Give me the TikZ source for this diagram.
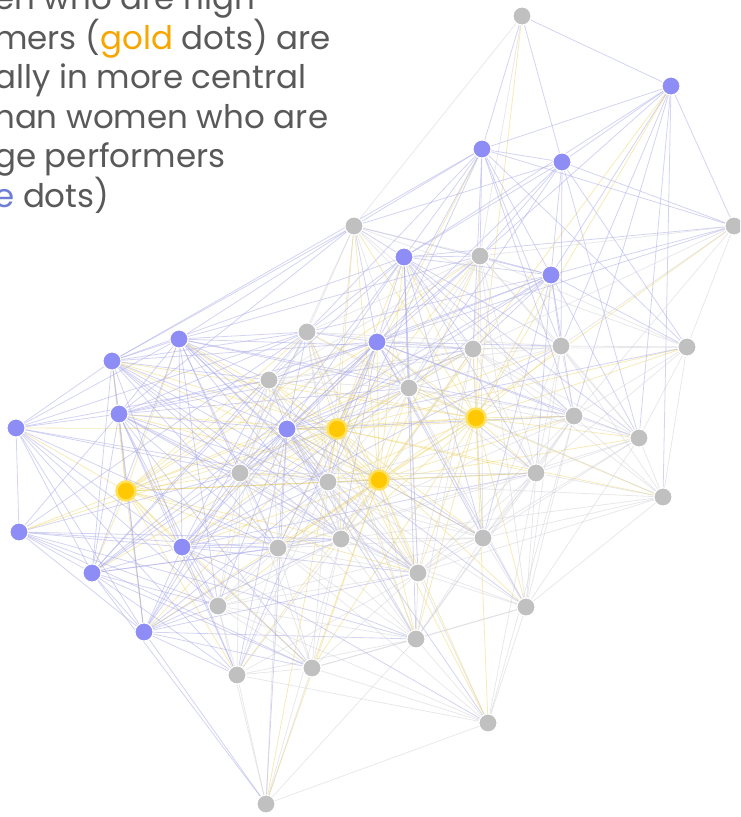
\documentclass[tikz,border=0pt]{standalone}
\usepackage{fontspec}
\setmainfont{Poppins}
\pgfdeclarelayer{back}
\pgfsetlayers{back,main}

\definecolor{dotgold}{RGB}{255,200,0}
\definecolor{dotglow}{RGB}{255,224,90}
\definecolor{dotblue}{RGB}{141,141,245}
\definecolor{dotgray}{RGB}{192,192,192}
\definecolor{linkgold}{RGB}{238,214,110}
\definecolor{linkblue}{RGB}{168,168,232}
\definecolor{linkgray}{RGB}{205,205,212}
\definecolor{inkgray}{RGB}{89,89,89}
\definecolor{inkgold}{RGB}{247,166,0}
\definecolor{inkblue}{RGB}{110,126,214}

\tikzset{
  dot/.style={circle, minimum size=18pt, inner sep=0pt, draw=white, line width=1pt},
  kind1/.style={dot, fill=dotgray},
  kind2/.style={dot, fill=dotblue},
  kind3/.style={dot, fill=dotgold, draw=dotglow, line width=2.5pt, minimum size=19pt},
  link1/.style={draw=linkgray, line width=0.8pt, draw opacity=0.45},
  link2/.style={draw=linkblue, line width=0.8pt, draw opacity=0.5},
  link3/.style={draw=linkgold, line width=0.8pt, draw opacity=0.5},
  blurb/.style={align=left, anchor=base west, inner sep=0pt, text=inkgray,
    font=\fontsize{32.5}{39.5}\selectfont}
}

% kind (3 gold, 2 blue, 1 gray) / x / y
\newcommand\dotlist{
  3/126/491, 3/337/429, 3/379/480, 3/476/418,
  2/671/86, 2/482/149, 2/562/162, 2/404/257, 2/551/275, 2/179/339,
  2/112/361, 2/377/342, 2/119/414, 2/16/428, 2/287/429, 2/19/532,
  2/182/547, 2/92/573, 2/144/632,
  1/522/16, 1/734/226, 1/354/226, 1/480/256, 1/307/332, 1/473/349,
  1/561/346, 1/687/347, 1/269/380, 1/409/388, 1/574/416, 1/639/438,
  1/240/473, 1/328/482, 1/536/473, 1/663/497, 1/278/548, 1/341/539,
  1/483/538, 1/418/573, 1/218/606, 1/526/607, 1/416/639, 1/237/675,
  1/312/668, 1/488/723, 1/266/804}

\begin{document}
\begin{tikzpicture}[x=1pt, y=-1pt]
  \useasboundingbox (0,0) rectangle (740,817);
  \clip (0,0) rectangle (740,817);

  \node[blurb] (note) at (-6,207) {en who are high\\
    mers (\textcolor{inkgold}{gold} dots) are\\
    ally in more central\\
    han women who are\\
    ge performers\\
    \textcolor{inkblue}{e} dots)};

  % the dots
  \foreach [count=\i] \k/\px/\py in \dotlist
    \node[kind\k] (n\i) at (\px,\py) {};

  % the links, behind the dots
  \pgfmathsetseed{11}
  \begin{pgfonlayer}{back}
  \foreach [count=\i] \ka/\xa/\ya in \dotlist {
    \foreach [count=\j] \kb/\xb/\yb in \dotlist {
      \ifnum\j>\i
        \pgfmathtruncatemacro\kk{max(\ka,\kb)}
        \pgfmathsetmacro\reach{\kk==3 ? 5.6 : (\kk==2 ? 4.6 : 3.8)}
        \pgfmathtruncatemacro\hit{veclen((\xa-\xb)/100,(\ya-\yb)/100) < 1.7+rnd*(\reach-1.7)}
        \ifnum\hit=1 \draw[link\kk] (n\i) -- (n\j); \fi
      \fi
    }
  }
  \end{pgfonlayer}
\end{tikzpicture}
\end{document}
